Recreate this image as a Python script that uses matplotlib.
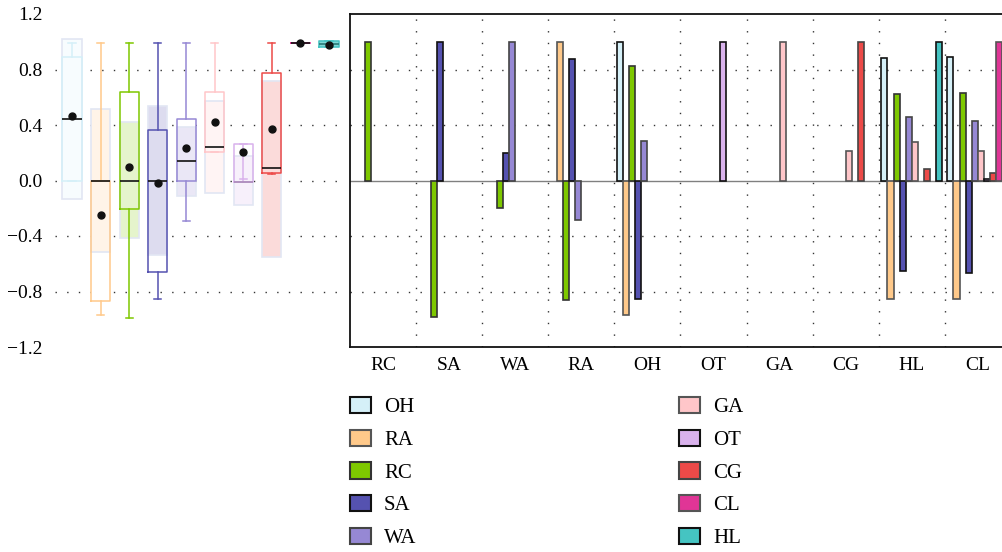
import matplotlib.pyplot as plt
import numpy as np
from matplotlib.colors import to_rgb
from matplotlib.patches import Patch

plt.rcParams["font.family"] = ["Liberation Serif", "DejaVu Serif"]
plt.rcParams["font.size"] = 14

# series (legend order)
names = ["OH", "RA", "RC", "SA", "WA", "GA", "OT", "CG", "CL", "HL"]
colors = ["#d5f0f8", "#ffc98a", "#7ec800", "#5552b0", "#9688d4",
          "#ffc6c9", "#d9b2ec", "#ec4a48", "#e03596", "#45c4c2"]
edges = ["#111111", "#555555", "#333333", "#111111", "#444444",
         "#555555", "#111111", "#444444", "#555555", "#111111"]

# bar chart: one row per category, one value per series (names order), 0 = no bar
categories = ["RC", "SA", "WA", "RA", "OH", "OT", "GA", "CG", "HL", "CL"]
values = np.array([
    # OH     RA     RC     SA     WA     GA     OT     CG     CL     HL
    [0.0,   0.0,   1.0,   0.0,   0.0,   0.0,   0.0,   0.0,   0.0,   0.0],   # RC
    [0.0,   0.0,  -0.985, 1.0,   0.0,   0.0,   0.0,   0.0,   0.0,   0.0],   # SA
    [0.0,   0.0,  -0.195, 0.195, 1.0,   0.0,   0.0,   0.0,   0.0,   0.0],   # WA
    [0.0,   1.0,  -0.864, 0.878, -0.287, 0.0,  0.0,   0.0,   0.0,   0.0],   # RA
    [1.0,  -0.968, 0.828, -0.857, 0.284, 0.0,  0.0,   0.0,   0.0,   0.0],   # OH
    [0.0,   0.0,   0.0,   0.0,   0.0,   0.0,   1.0,   0.0,   0.0,   0.0],   # OT
    [0.0,   0.0,   0.0,   0.0,   0.0,   1.0,   0.0,   0.0,   0.0,   0.0],   # GA
    [0.0,   0.0,   0.0,   0.0,   0.0,   0.216, 0.0,   1.0,   0.0,   0.0],   # CG
    [0.885, -0.857, 0.625, -0.655, 0.455, 0.277, 0.0,  0.086, 0.0,   1.0],   # HL
    [0.893, -0.857, 0.633, -0.669, 0.43, 0.21,  0.014, 0.055, 1.0,   0.0],   # CL
])

# box plot summaries (names order)
q1 = [0.0, -0.866, -0.207, -0.662, 0.0, 0.209, -0.012, 0.055, 0.994, 0.965]
q3 = [0.893, 0.0, 0.635, 0.365, 0.44, 0.635, 0.26, 0.772, 0.994, 1.003]
med = [0.44, 0.0, 0.0, 0.0, 0.137, 0.245, -0.012, 0.089, 0.994, 0.984]
mean = [0.462, -0.246, 0.098, -0.017, 0.235, 0.423, 0.202, 0.372, 0.994, 0.98]
whislo = [0.0, -0.97, -0.992, -0.857, -0.292, 0.209, 0.014, 0.05, 0.994, 0.965]
whishi = [0.994, 0.994, 0.994, 0.994, 0.994, 0.994, 0.26, 0.994, 0.994, 1.003]
band_lo = [-0.136, -0.516, -0.417, -0.539, -0.111, -0.089, -0.18, -0.552, 0.994, 0.965]
band_hi = [1.018, 0.514, 0.419, 0.536, 0.385, 0.573, 0.18, 0.72, 0.994, 1.003]

yticks = [-1.2, -0.8, -0.4, 0.0, 0.4, 0.8, 1.2]
dots = (0, (1, 7.4))

W, H = 1003, 552
fig = plt.figure(figsize=(W / 100, H / 100), dpi=100)

# ---- left: box plots ----
ax1 = fig.add_axes([55 / W, (H - 347) / H, 292 / W, 333 / H])
pos = np.arange(1, len(names) + 1)
bw = 0.67
light = [tuple(1 - 0.2 * (1 - np.array(to_rgb(c)))) for c in colors]

for y in yticks[1:-1]:
    ax1.axhline(y, color="#333333", lw=1.0, ls=dots, zorder=1)

ax1.bar(pos, np.array(q3) - np.array(q1), bottom=q1, width=bw,
        color="white", zorder=2)
ax1.bar(pos, np.array(band_hi) - np.array(band_lo), bottom=band_lo, width=bw,
        color=light, edgecolor="#e2e6f3", lw=1.2, zorder=2.5)

stats = [dict(med=med[i], q1=q1[i], q3=q3[i], whislo=whislo[i],
              whishi=whishi[i], mean=mean[i], fliers=[])
         for i in range(len(names))]
bp = ax1.bxp(stats, positions=pos, widths=bw, capwidths=0.25, showmeans=True,
             meanprops=dict(marker="o", markerfacecolor="#111111",
                            markeredgecolor="#111111", markersize=5),
             medianprops=dict(color="#111111", lw=1.2),
             manage_ticks=False, zorder=3)
for i, c in enumerate(colors):
    bp["boxes"][i].set_color(c)
    for k in (2 * i, 2 * i + 1):
        bp["whiskers"][k].set_color(c)
        bp["caps"][k].set_color(c)
for ln in bp["boxes"] + bp["whiskers"] + bp["caps"]:
    ln.set_linewidth(1.1)
bp["medians"][6].set_color("#a98ab8")
bp["medians"][9].set_color("#2a7a78")
ax1.vlines(pos[6], whislo[6], q3[6], color=colors[6], lw=1.1, zorder=3)
ax1.bar(pos[9], q3[9] - q1[9], bottom=q1[9], width=bw, color=colors[9],
        alpha=0.6, zorder=2.8)

ax1.set_xlim(0.405, 10.63)
ax1.set_ylim(-1.2, 1.2)
ax1.set_yticks(yticks)
ax1.set_yticklabels([f"{v:.1f}".replace("-", "\u2212") for v in yticks])
ax1.tick_params(axis="y", length=0, pad=9)
ax1.set_xticks([])
for s in ax1.spines.values():
    s.set_visible(False)

# ---- right: grouped bars ----
ax2 = fig.add_axes([350 / W, (H - 347) / H, 661 / W, 333 / H])
x = np.arange(len(categories))
slot = 0.0925
for y in yticks[1:-1]:
    if y != 0:
        ax2.axhline(y, color="#333333", lw=1.0, ls=dots, zorder=0)
for b in x[:-1] + 0.5:
    ax2.axvline(b, color="#333333", lw=1.0, ls=dots, zorder=0)
ax2.axhline(0, color="#808080", lw=1.0, zorder=1)
for j, n in enumerate(names):
    v = values[:, j]
    keep = v != 0
    ax2.bar((x - 0.4625 + slot * (j + 0.5))[keep], v[keep], width=slot,
            color=colors[j], edgecolor=edges[j], lw=1.2, zorder=2)

ax2.set_xlim(-0.5, 9.5)
ax2.set_ylim(-1.2, 1.2)
ax2.set_xticks(x)
ax2.set_xticklabels(categories)
ax2.set_yticks([])
ax2.tick_params(axis="x", length=0, pad=7)
for s in ax2.spines.values():
    s.set_linewidth(1.3)
    s.set_color("#111111")

# ---- legend ----
handles = [Patch(facecolor=c, edgecolor=e, lw=1.5) for c, e in zip(colors, edges)]
fig.legend(handles, names, loc="upper left", bbox_to_anchor=(350 / W, 0.2808),
           ncol=2, frameon=False, borderpad=0, borderaxespad=0, fontsize=15,
           handlelength=1.0, handleheight=0.83, handletextpad=0.63,
           labelspacing=0.59, columnspacing=12.6)

fig.savefig("out.png", dpi=100)
